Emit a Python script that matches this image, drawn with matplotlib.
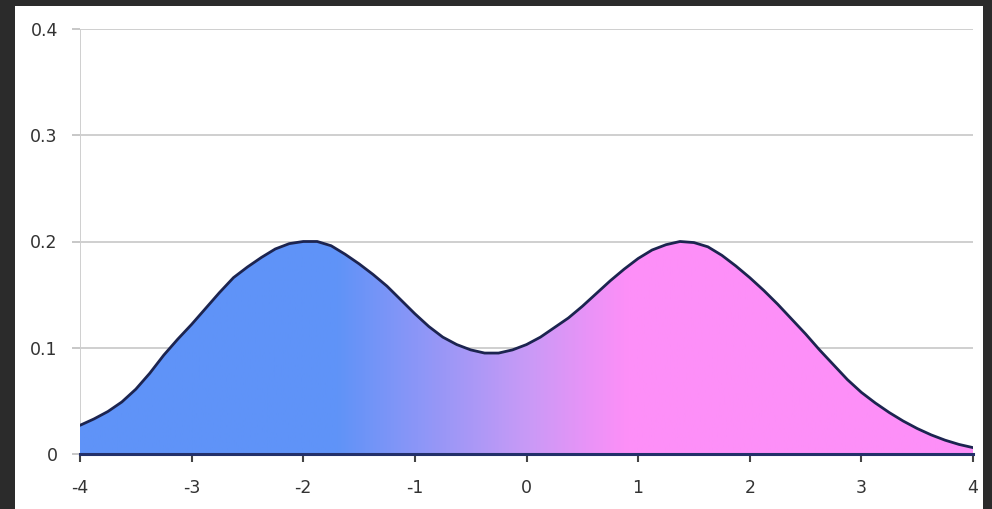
import matplotlib
matplotlib.use("Agg")
import matplotlib.pyplot as plt
import numpy as np
from matplotlib.patches import Rectangle
from matplotlib.colors import LinearSegmentedColormap

x_vals = [-4.0, -3.875, -3.75, -3.625, -3.5, -3.375, -3.25, -3.125, -3.0, -2.875, -2.75, -2.625,
          -2.5, -2.375, -2.25, -2.125, -2.0, -1.875, -1.75, -1.625, -1.5, -1.375, -1.25, -1.125,
          -1.0, -0.875, -0.75, -0.625, -0.5, -0.375, -0.25, -0.125, 0.0, 0.125, 0.25, 0.375,
          0.5, 0.625, 0.75, 0.875, 1.0, 1.125, 1.25, 1.375, 1.5, 1.625, 1.75, 1.875,
          2.0, 2.125, 2.25, 2.375, 2.5, 2.625, 2.75, 2.875, 3.0, 3.125, 3.25, 3.375,
          3.5, 3.625, 3.75, 3.875, 4.0]
y_vals = [0.027, 0.033, 0.040, 0.049, 0.061, 0.076, 0.093, 0.108, 0.122, 0.137, 0.152, 0.166,
          0.176, 0.185, 0.193, 0.198, 0.200, 0.200, 0.196, 0.188, 0.179, 0.169, 0.158, 0.145,
          0.132, 0.120, 0.110, 0.103, 0.098, 0.095, 0.095, 0.098, 0.103, 0.110, 0.119, 0.128,
          0.139, 0.151, 0.163, 0.174, 0.184, 0.192, 0.197, 0.200, 0.199, 0.195, 0.187, 0.177,
          0.166, 0.154, 0.141, 0.127, 0.113, 0.098, 0.084, 0.070, 0.058, 0.048, 0.039, 0.031,
          0.024, 0.018, 0.013, 0.009, 0.006]
x_ticks = [-4, -3, -2, -1, 0, 1, 2, 3, 4]
x_labels = ["-4", "-3", "-2", "-1", "0", "1", "2", "3", "4"]
y_ticks = [0, 0.1, 0.2, 0.3, 0.4]
y_labels = ["0", "0.1", "0.2", "0.3", "0.4"]

blue = "#5f93f8"
pink = "#fd8ff8"

fig = plt.figure(figsize=(9.92, 5.09), dpi=100)
fig.patch.set_facecolor("#2b2b2b")
fig.add_artist(Rectangle((15 / 992, 0), (983 - 15) / 992, 1 - 6 / 509,
                         transform=fig.transFigure, facecolor="white", edgecolor="none", zorder=0))

ax = fig.add_axes([80 / 992, 1 - 454 / 509, (973 - 80) / 992, (454 - 29) / 509])
ax.set_facecolor("white")
ax.set_xlim(-4, 4)
ax.set_ylim(0, 0.4)

for yv in y_ticks[1:]:
    ax.axhline(yv, color="#cfcfcf", lw=1.4, zorder=1)
ax.axvline(-4, color="#cfcfcf", lw=1.4, zorder=1)

# gradient fill clipped by area
xs = np.array(x_vals)
ys = np.array(y_vals)
poly = ax.fill_between(xs, 0, ys, facecolor="none", edgecolor="none")
cmap = LinearSegmentedColormap.from_list("bp", [(0, blue), (0.2875, blue), (0.5, "#c89af6"), (0.6125, pink), (1, pink)])
grad = np.linspace(0, 1, 512).reshape(1, -1)
im = ax.imshow(grad, extent=[-4, 4, 0, 0.4], aspect="auto", cmap=cmap, zorder=2, origin="lower")
path = poly.get_paths()[0]
im.set_clip_path(path, transform=ax.transData)

ax.plot(xs, ys, color="#1c2450", lw=2.0, zorder=4, solid_capstyle="round", solid_joinstyle="round")
ax.plot([-4, 4], [0, 0], color="#23306a", lw=2.2, zorder=4, clip_on=False)

for s in ax.spines.values():
    s.set_visible(False)

ax.set_xticks(x_ticks)
ax.set_xticklabels(x_labels)
ax.set_yticks(y_ticks)
ax.set_yticklabels(y_labels)
ax.tick_params(axis="x", length=6, width=1.5, color="#444444", pad=12, labelsize=12.5, labelcolor="#333333", direction="out")
ax.tick_params(axis="y", length=6, width=1.2, color="#bdbdbd", pad=10, labelsize=12.5, labelcolor="#333333", direction="out")

fig.savefig("out.png", dpi=100, facecolor=fig.get_facecolor())
